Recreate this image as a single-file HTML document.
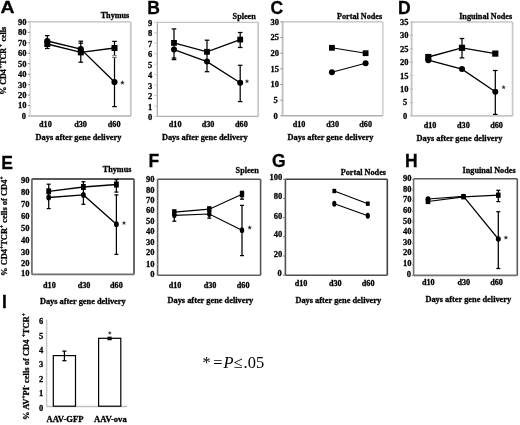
<!DOCTYPE html><html><head><meta charset="utf-8"><style>html,body{margin:0;padding:0;background:#fff;}svg{display:block;will-change:transform;} text{stroke:#000;stroke-width:0.28px;paint-order:stroke;}</style></head><body>
<svg width="520" height="425" viewBox="0 0 520 425">
<rect width="520" height="425" fill="#fff"/>
<line x1="30.00" y1="21.90" x2="130.80" y2="21.90" stroke="#bdbdbd" stroke-width="1.4" />
<line x1="130.80" y1="21.90" x2="130.80" y2="116.00" stroke="#c8c8c8" stroke-width="1.8" />
<line x1="30.00" y1="116.00" x2="130.80" y2="116.00" stroke="#b0b0b0" stroke-width="1.4" />
<line x1="30.00" y1="21.90" x2="30.00" y2="116.00" stroke="#dcdcdc" stroke-width="1.8" />
<line x1="27.80" y1="21.90" x2="30.00" y2="21.90" stroke="#888" stroke-width="1" />
<text x="26.60" y="24.80" font-size="8.5" text-anchor="end" font-weight="bold" font-family="'Liberation Serif', serif" fill="#000" >90</text>
<line x1="27.80" y1="32.36" x2="30.00" y2="32.36" stroke="#888" stroke-width="1" />
<text x="26.60" y="35.26" font-size="8.5" text-anchor="end" font-weight="bold" font-family="'Liberation Serif', serif" fill="#000" >80</text>
<line x1="27.80" y1="42.81" x2="30.00" y2="42.81" stroke="#888" stroke-width="1" />
<text x="26.60" y="45.71" font-size="8.5" text-anchor="end" font-weight="bold" font-family="'Liberation Serif', serif" fill="#000" >70</text>
<line x1="27.80" y1="53.27" x2="30.00" y2="53.27" stroke="#888" stroke-width="1" />
<text x="26.60" y="56.17" font-size="8.5" text-anchor="end" font-weight="bold" font-family="'Liberation Serif', serif" fill="#000" >60</text>
<line x1="27.80" y1="63.72" x2="30.00" y2="63.72" stroke="#888" stroke-width="1" />
<text x="26.60" y="66.62" font-size="8.5" text-anchor="end" font-weight="bold" font-family="'Liberation Serif', serif" fill="#000" >50</text>
<line x1="27.80" y1="74.18" x2="30.00" y2="74.18" stroke="#888" stroke-width="1" />
<text x="26.60" y="77.08" font-size="8.5" text-anchor="end" font-weight="bold" font-family="'Liberation Serif', serif" fill="#000" >40</text>
<line x1="27.80" y1="84.63" x2="30.00" y2="84.63" stroke="#888" stroke-width="1" />
<text x="26.60" y="87.53" font-size="8.5" text-anchor="end" font-weight="bold" font-family="'Liberation Serif', serif" fill="#000" >30</text>
<line x1="27.80" y1="95.09" x2="30.00" y2="95.09" stroke="#888" stroke-width="1" />
<text x="26.60" y="97.99" font-size="8.5" text-anchor="end" font-weight="bold" font-family="'Liberation Serif', serif" fill="#000" >20</text>
<line x1="27.80" y1="105.54" x2="30.00" y2="105.54" stroke="#888" stroke-width="1" />
<text x="26.60" y="108.44" font-size="8.5" text-anchor="end" font-weight="bold" font-family="'Liberation Serif', serif" fill="#000" >10</text>
<line x1="27.80" y1="116.00" x2="30.00" y2="116.00" stroke="#888" stroke-width="1" />
<text x="26.10" y="118.90" font-size="8.5" text-anchor="end" font-weight="bold" font-family="'Liberation Serif', serif" fill="#000" >0</text>
<text transform="translate(0.60,13.40) scale(1.13,1)" font-size="17.2" font-weight="bold" font-family="'Liberation Sans', sans-serif">A</text>
<text x="129.30" y="17.80" font-size="8.2" text-anchor="end" font-weight="bold" font-family="'Liberation Serif', serif" fill="#000" >Thymus</text>
<text x="45.40" y="127.00" font-size="8.2" text-anchor="middle" font-weight="bold" font-family="'Liberation Serif', serif" fill="#000" >d10</text>
<text x="80.60" y="127.00" font-size="8.2" text-anchor="middle" font-weight="bold" font-family="'Liberation Serif', serif" fill="#000" >d30</text>
<text x="114.20" y="127.00" font-size="8.2" text-anchor="middle" font-weight="bold" font-family="'Liberation Serif', serif" fill="#000" >d60</text>
<text x="78.50" y="140.30" font-size="8.35" text-anchor="middle" font-weight="bold" font-family="'Liberation Serif', serif" fill="#000" >Days after gene delivery</text>
<line x1="47.30" y1="35.60" x2="47.30" y2="48.50" stroke="#000" stroke-width="1.25" />
<line x1="45.00" y1="35.60" x2="49.60" y2="35.60" stroke="#000" stroke-width="1.25" />
<line x1="45.00" y1="48.50" x2="49.60" y2="48.50" stroke="#000" stroke-width="1.25" />
<line x1="80.80" y1="41.20" x2="80.80" y2="62.20" stroke="#000" stroke-width="1.25" />
<line x1="78.50" y1="41.20" x2="83.10" y2="41.20" stroke="#000" stroke-width="1.25" />
<line x1="78.50" y1="43.20" x2="83.10" y2="43.20" stroke="#000" stroke-width="1.25" />
<line x1="78.50" y1="62.20" x2="83.10" y2="62.20" stroke="#000" stroke-width="1.25" />
<line x1="114.50" y1="41.40" x2="114.50" y2="56.00" stroke="#000" stroke-width="1.25" />
<line x1="112.20" y1="41.40" x2="116.80" y2="41.40" stroke="#000" stroke-width="1.25" />
<line x1="114.50" y1="57.40" x2="114.50" y2="106.60" stroke="#000" stroke-width="1.25" />
<line x1="112.20" y1="106.60" x2="116.80" y2="106.60" stroke="#000" stroke-width="1.25" />
<line x1="112.20" y1="55.70" x2="116.80" y2="55.70" stroke="#777" stroke-width="1.1" />
<line x1="112.20" y1="57.50" x2="116.80" y2="57.50" stroke="#777" stroke-width="1.1" />
<polyline points="47.30,44.00 80.80,52.40 114.50,48.00" fill="none" stroke="#000" stroke-width="1.3"/>
<polyline points="47.30,41.00 80.80,49.10 114.50,82.00" fill="none" stroke="#000" stroke-width="1.3"/>
<rect x="44.30" y="41.00" width="6" height="6" fill="#000"/>
<rect x="77.80" y="49.40" width="6" height="6" fill="#000"/>
<rect x="111.50" y="45.00" width="6" height="6" fill="#000"/>
<circle cx="47.30" cy="41.00" r="3.1" fill="#000"/>
<circle cx="80.80" cy="49.10" r="3.1" fill="#000"/>
<circle cx="114.50" cy="82.00" r="3.1" fill="#000"/>
<polygon points="122.40,80.30 123.02,81.85 124.68,81.96 123.40,83.02 123.81,84.64 122.40,83.75 120.99,84.64 121.40,83.02 120.12,81.96 121.78,81.85" fill="#333"/>
<text transform="translate(6.3,60.8) rotate(-90)" font-size="8.0" text-anchor="middle" font-weight="bold" font-family="'Liberation Serif', serif"><tspan dx="0" dy="0">% CD4</tspan><tspan font-size="5.5" dx="0.6" dy="-3.2">+</tspan><tspan dx="0.6" dy="3.2">TCR</tspan><tspan font-size="5.5" dx="0.6" dy="-3.2">+</tspan><tspan dx="0.6" dy="3.2"> cells</tspan></text>
<line x1="157.30" y1="22.30" x2="258.20" y2="22.30" stroke="#c4c4c4" stroke-width="1.2" />
<line x1="258.20" y1="22.30" x2="258.20" y2="116.40" stroke="#c8c8c8" stroke-width="1.8" />
<line x1="157.30" y1="116.40" x2="258.20" y2="116.40" stroke="#b0b0b0" stroke-width="1.4" />
<line x1="157.30" y1="22.30" x2="157.30" y2="116.40" stroke="#a0a0a0" stroke-width="1.1" />
<line x1="154.30" y1="22.30" x2="157.30" y2="22.30" stroke="#c8c8c8" stroke-width="1" />
<text x="152.30" y="25.80" font-size="8.5" text-anchor="end" font-weight="bold" font-family="'Liberation Serif', serif" fill="#000" >9</text>
<line x1="154.30" y1="32.77" x2="157.30" y2="32.77" stroke="#c8c8c8" stroke-width="1" />
<text x="152.30" y="36.27" font-size="8.5" text-anchor="end" font-weight="bold" font-family="'Liberation Serif', serif" fill="#000" >8</text>
<line x1="154.30" y1="43.23" x2="157.30" y2="43.23" stroke="#c8c8c8" stroke-width="1" />
<text x="152.30" y="46.73" font-size="8.5" text-anchor="end" font-weight="bold" font-family="'Liberation Serif', serif" fill="#000" >7</text>
<line x1="154.30" y1="53.70" x2="157.30" y2="53.70" stroke="#c8c8c8" stroke-width="1" />
<text x="152.30" y="57.20" font-size="8.5" text-anchor="end" font-weight="bold" font-family="'Liberation Serif', serif" fill="#000" >6</text>
<line x1="154.30" y1="64.17" x2="157.30" y2="64.17" stroke="#c8c8c8" stroke-width="1" />
<text x="152.30" y="67.67" font-size="8.5" text-anchor="end" font-weight="bold" font-family="'Liberation Serif', serif" fill="#000" >5</text>
<line x1="154.30" y1="74.63" x2="157.30" y2="74.63" stroke="#c8c8c8" stroke-width="1" />
<text x="152.30" y="78.13" font-size="8.5" text-anchor="end" font-weight="bold" font-family="'Liberation Serif', serif" fill="#000" >4</text>
<line x1="154.30" y1="85.10" x2="157.30" y2="85.10" stroke="#c8c8c8" stroke-width="1" />
<text x="152.30" y="88.60" font-size="8.5" text-anchor="end" font-weight="bold" font-family="'Liberation Serif', serif" fill="#000" >3</text>
<line x1="154.30" y1="95.57" x2="157.30" y2="95.57" stroke="#c8c8c8" stroke-width="1" />
<text x="152.30" y="99.07" font-size="8.5" text-anchor="end" font-weight="bold" font-family="'Liberation Serif', serif" fill="#000" >2</text>
<line x1="154.30" y1="106.03" x2="157.30" y2="106.03" stroke="#c8c8c8" stroke-width="1" />
<text x="152.30" y="109.53" font-size="8.5" text-anchor="end" font-weight="bold" font-family="'Liberation Serif', serif" fill="#000" >1</text>
<line x1="154.30" y1="116.50" x2="157.30" y2="116.50" stroke="#c8c8c8" stroke-width="1" />
<text x="152.30" y="120.00" font-size="8.5" text-anchor="end" font-weight="bold" font-family="'Liberation Serif', serif" fill="#000" >0</text>
<text x="147.20" y="14.00" font-size="17.5" text-anchor="start" font-weight="bold" font-family="'Liberation Sans', sans-serif" fill="#000" >B</text>
<text x="255.80" y="18.80" font-size="8.2" text-anchor="end" font-weight="bold" font-family="'Liberation Serif', serif" fill="#000" >Spleen</text>
<text x="175.20" y="127.20" font-size="8.2" text-anchor="middle" font-weight="bold" font-family="'Liberation Serif', serif" fill="#000" >d10</text>
<text x="208.00" y="127.20" font-size="8.2" text-anchor="middle" font-weight="bold" font-family="'Liberation Serif', serif" fill="#000" >d30</text>
<text x="241.40" y="127.20" font-size="8.2" text-anchor="middle" font-weight="bold" font-family="'Liberation Serif', serif" fill="#000" >d60</text>
<text x="204.80" y="140.20" font-size="8.35" text-anchor="middle" font-weight="bold" font-family="'Liberation Serif', serif" fill="#000" >Days after gene delivery</text>
<line x1="174.00" y1="28.90" x2="174.00" y2="59.60" stroke="#000" stroke-width="1.25" />
<line x1="171.70" y1="28.90" x2="176.30" y2="28.90" stroke="#000" stroke-width="1.25" />
<line x1="171.70" y1="58.00" x2="176.30" y2="58.00" stroke="#000" stroke-width="1.25" />
<line x1="171.70" y1="59.60" x2="176.30" y2="59.60" stroke="#000" stroke-width="1.25" />
<line x1="207.00" y1="40.20" x2="207.00" y2="71.70" stroke="#000" stroke-width="1.25" />
<line x1="204.70" y1="40.20" x2="209.30" y2="40.20" stroke="#000" stroke-width="1.25" />
<line x1="204.70" y1="71.70" x2="209.30" y2="71.70" stroke="#000" stroke-width="1.25" />
<line x1="240.20" y1="32.50" x2="240.20" y2="47.50" stroke="#000" stroke-width="1.25" />
<line x1="237.90" y1="32.50" x2="242.50" y2="32.50" stroke="#000" stroke-width="1.25" />
<line x1="237.90" y1="47.50" x2="242.50" y2="47.50" stroke="#000" stroke-width="1.25" />
<line x1="240.20" y1="65.30" x2="240.20" y2="101.60" stroke="#000" stroke-width="1.25" />
<line x1="237.90" y1="65.30" x2="242.50" y2="65.30" stroke="#000" stroke-width="1.25" />
<line x1="237.90" y1="101.60" x2="242.50" y2="101.60" stroke="#000" stroke-width="1.25" />
<polyline points="174.00,42.90 207.00,51.80 240.20,39.60" fill="none" stroke="#000" stroke-width="1.3"/>
<polyline points="174.00,49.60 207.00,61.60 240.20,82.70" fill="none" stroke="#000" stroke-width="1.3"/>
<rect x="171.10" y="40.00" width="5.8" height="5.8" fill="#000"/>
<rect x="204.10" y="48.90" width="5.8" height="5.8" fill="#000"/>
<rect x="237.30" y="36.70" width="5.8" height="5.8" fill="#000"/>
<circle cx="174.00" cy="49.60" r="3.0" fill="#000"/>
<circle cx="207.00" cy="61.60" r="3.0" fill="#000"/>
<circle cx="240.20" cy="82.70" r="3.0" fill="#000"/>
<polygon points="247.00,78.90 247.62,80.45 249.28,80.56 248.00,81.62 248.41,83.24 247.00,82.35 245.59,83.24 246.00,81.62 244.72,80.56 246.38,80.45" fill="#333"/>
<line x1="282.60" y1="21.90" x2="382.80" y2="21.90" stroke="#bdbdbd" stroke-width="1.3" />
<line x1="382.80" y1="21.90" x2="382.80" y2="115.80" stroke="#d4d4d4" stroke-width="1.8" />
<line x1="282.60" y1="115.80" x2="382.80" y2="115.80" stroke="#b0b0b0" stroke-width="1.4" />
<line x1="282.60" y1="21.90" x2="282.60" y2="115.80" stroke="#c0c0c0" stroke-width="1.8" />
<line x1="280.40" y1="21.90" x2="282.60" y2="21.90" stroke="#888" stroke-width="1" />
<text x="278.90" y="24.80" font-size="8.5" text-anchor="end" font-weight="bold" font-family="'Liberation Serif', serif" fill="#000" >30</text>
<line x1="280.40" y1="37.55" x2="282.60" y2="37.55" stroke="#888" stroke-width="1" />
<text x="278.90" y="40.45" font-size="8.5" text-anchor="end" font-weight="bold" font-family="'Liberation Serif', serif" fill="#000" >25</text>
<line x1="280.40" y1="53.20" x2="282.60" y2="53.20" stroke="#888" stroke-width="1" />
<text x="278.90" y="56.10" font-size="8.5" text-anchor="end" font-weight="bold" font-family="'Liberation Serif', serif" fill="#000" >20</text>
<line x1="280.40" y1="68.85" x2="282.60" y2="68.85" stroke="#888" stroke-width="1" />
<text x="278.90" y="71.75" font-size="8.5" text-anchor="end" font-weight="bold" font-family="'Liberation Serif', serif" fill="#000" >15</text>
<line x1="280.40" y1="84.50" x2="282.60" y2="84.50" stroke="#888" stroke-width="1" />
<text x="278.90" y="87.40" font-size="8.5" text-anchor="end" font-weight="bold" font-family="'Liberation Serif', serif" fill="#000" >10</text>
<line x1="280.40" y1="100.15" x2="282.60" y2="100.15" stroke="#888" stroke-width="1" />
<text x="277.80" y="103.05" font-size="8.5" text-anchor="end" font-weight="bold" font-family="'Liberation Serif', serif" fill="#000" >5</text>
<line x1="280.40" y1="115.80" x2="282.60" y2="115.80" stroke="#888" stroke-width="1" />
<text x="277.80" y="118.70" font-size="8.5" text-anchor="end" font-weight="bold" font-family="'Liberation Serif', serif" fill="#000" >0</text>
<text x="270.60" y="13.80" font-size="17.5" text-anchor="start" font-weight="bold" font-family="'Liberation Sans', sans-serif" fill="#000" >C</text>
<text x="382.20" y="19.00" font-size="8.2" text-anchor="end" font-weight="bold" font-family="'Liberation Serif', serif" fill="#000" >Portal Nodes</text>
<text x="299.10" y="126.80" font-size="8.2" text-anchor="middle" font-weight="bold" font-family="'Liberation Serif', serif" fill="#000" >d10</text>
<text x="332.70" y="126.80" font-size="8.2" text-anchor="middle" font-weight="bold" font-family="'Liberation Serif', serif" fill="#000" >d30</text>
<text x="365.70" y="126.80" font-size="8.2" text-anchor="middle" font-weight="bold" font-family="'Liberation Serif', serif" fill="#000" >d60</text>
<text x="330.50" y="140.10" font-size="8.35" text-anchor="middle" font-weight="bold" font-family="'Liberation Serif', serif" fill="#000" >Days after gene delivery</text>
<polyline points="331.90,47.80 365.60,53.20" fill="none" stroke="#000" stroke-width="1.1"/>
<polyline points="331.90,72.30 365.60,63.30" fill="none" stroke="#000" stroke-width="1.1"/>
<rect x="329.00" y="44.90" width="5.8" height="5.8" fill="#000"/>
<rect x="362.70" y="50.30" width="5.8" height="5.8" fill="#000"/>
<circle cx="331.90" cy="72.30" r="3.0" fill="#000"/>
<circle cx="365.60" cy="63.30" r="3.0" fill="#000"/>
<line x1="411.60" y1="22.00" x2="512.60" y2="22.00" stroke="#c8c8c8" stroke-width="1.3" />
<line x1="512.60" y1="22.00" x2="512.60" y2="115.90" stroke="#c8c8c8" stroke-width="1.8" />
<line x1="411.60" y1="115.90" x2="512.60" y2="115.90" stroke="#b0b0b0" stroke-width="1.4" />
<line x1="411.60" y1="22.00" x2="411.60" y2="115.90" stroke="#c4c4c4" stroke-width="1.8" />
<line x1="409.80" y1="22.00" x2="413.10" y2="22.00" stroke="#bbb" stroke-width="1" />
<text x="408.50" y="24.90" font-size="8.5" text-anchor="end" font-weight="bold" font-family="'Liberation Serif', serif" fill="#000" >35</text>
<line x1="409.80" y1="35.41" x2="413.10" y2="35.41" stroke="#bbb" stroke-width="1" />
<text x="408.50" y="38.31" font-size="8.5" text-anchor="end" font-weight="bold" font-family="'Liberation Serif', serif" fill="#000" >30</text>
<line x1="409.80" y1="48.83" x2="413.10" y2="48.83" stroke="#bbb" stroke-width="1" />
<text x="408.50" y="51.73" font-size="8.5" text-anchor="end" font-weight="bold" font-family="'Liberation Serif', serif" fill="#000" >25</text>
<line x1="409.80" y1="62.24" x2="413.10" y2="62.24" stroke="#bbb" stroke-width="1" />
<text x="408.50" y="65.14" font-size="8.5" text-anchor="end" font-weight="bold" font-family="'Liberation Serif', serif" fill="#000" >20</text>
<line x1="409.80" y1="75.66" x2="413.10" y2="75.66" stroke="#bbb" stroke-width="1" />
<text x="408.50" y="78.56" font-size="8.5" text-anchor="end" font-weight="bold" font-family="'Liberation Serif', serif" fill="#000" >15</text>
<line x1="409.80" y1="89.07" x2="413.10" y2="89.07" stroke="#bbb" stroke-width="1" />
<text x="408.50" y="91.97" font-size="8.5" text-anchor="end" font-weight="bold" font-family="'Liberation Serif', serif" fill="#000" >10</text>
<line x1="409.80" y1="102.49" x2="413.10" y2="102.49" stroke="#bbb" stroke-width="1" />
<text x="407.30" y="105.39" font-size="8.5" text-anchor="end" font-weight="bold" font-family="'Liberation Serif', serif" fill="#000" >5</text>
<line x1="409.80" y1="115.90" x2="413.10" y2="115.90" stroke="#bbb" stroke-width="1" />
<text x="407.30" y="118.80" font-size="8.5" text-anchor="end" font-weight="bold" font-family="'Liberation Serif', serif" fill="#000" >0</text>
<text x="398.00" y="14.10" font-size="17.5" text-anchor="start" font-weight="bold" font-family="'Liberation Sans', sans-serif" fill="#000" >D</text>
<text x="512.20" y="19.20" font-size="8.2" text-anchor="end" font-weight="bold" font-family="'Liberation Serif', serif" fill="#000" >Inguinal Nodes</text>
<text x="430.10" y="127.50" font-size="8.2" text-anchor="middle" font-weight="bold" font-family="'Liberation Serif', serif" fill="#000" >d10</text>
<text x="463.40" y="127.50" font-size="8.2" text-anchor="middle" font-weight="bold" font-family="'Liberation Serif', serif" fill="#000" >d30</text>
<text x="496.60" y="127.50" font-size="8.2" text-anchor="middle" font-weight="bold" font-family="'Liberation Serif', serif" fill="#000" >d60</text>
<text x="459.50" y="141.10" font-size="8.35" text-anchor="middle" font-weight="bold" font-family="'Liberation Serif', serif" fill="#000" >Days after gene delivery</text>
<line x1="462.00" y1="38.50" x2="462.00" y2="57.90" stroke="#000" stroke-width="1.25" />
<line x1="459.70" y1="38.50" x2="464.30" y2="38.50" stroke="#000" stroke-width="1.25" />
<line x1="459.70" y1="57.90" x2="464.30" y2="57.90" stroke="#000" stroke-width="1.25" />
<line x1="495.30" y1="70.50" x2="495.30" y2="114.40" stroke="#000" stroke-width="1.25" />
<line x1="493.00" y1="70.50" x2="497.60" y2="70.50" stroke="#000" stroke-width="1.25" />
<line x1="493.00" y1="114.40" x2="497.60" y2="114.40" stroke="#000" stroke-width="1.25" />
<polyline points="428.30,57.00 462.00,47.80 495.30,53.60" fill="none" stroke="#000" stroke-width="1.3"/>
<polyline points="428.30,60.20 462.00,69.10 495.30,91.80" fill="none" stroke="#000" stroke-width="1.3"/>
<rect x="425.20" y="53.90" width="6.2" height="6.2" fill="#000"/>
<rect x="458.90" y="44.70" width="6.2" height="6.2" fill="#000"/>
<rect x="492.20" y="50.50" width="6.2" height="6.2" fill="#000"/>
<circle cx="428.30" cy="60.20" r="3.0" fill="#000"/>
<circle cx="462.00" cy="69.10" r="3.0" fill="#000"/>
<circle cx="495.30" cy="91.80" r="3.0" fill="#000"/>
<polygon points="503.60,84.90 504.22,86.45 505.88,86.56 504.60,87.62 505.01,89.24 503.60,88.35 502.19,89.24 502.60,87.62 501.32,86.56 502.98,86.45" fill="#333"/>
<line x1="31.90" y1="179.00" x2="134.00" y2="179.00" stroke="#5a5a5a" stroke-width="1.8" />
<line x1="134.00" y1="179.00" x2="134.00" y2="274.40" stroke="#5a5a5a" stroke-width="1.8" />
<line x1="31.90" y1="274.40" x2="134.00" y2="274.40" stroke="#707070" stroke-width="1.8" />
<line x1="31.90" y1="179.00" x2="31.90" y2="274.40" stroke="#707070" stroke-width="1.8" />
<line x1="30.70" y1="179.00" x2="31.90" y2="179.00" stroke="#999" stroke-width="1" />
<text x="29.50" y="182.70" font-size="8.5" text-anchor="end" font-weight="bold" font-family="'Liberation Serif', serif" fill="#000" >90</text>
<line x1="30.70" y1="190.78" x2="31.90" y2="190.78" stroke="#999" stroke-width="1" />
<text x="29.50" y="194.70" font-size="8.5" text-anchor="end" font-weight="bold" font-family="'Liberation Serif', serif" fill="#000" >80</text>
<line x1="30.70" y1="202.55" x2="31.90" y2="202.55" stroke="#999" stroke-width="1" />
<text x="29.50" y="207.10" font-size="8.5" text-anchor="end" font-weight="bold" font-family="'Liberation Serif', serif" fill="#000" >70</text>
<line x1="30.70" y1="214.32" x2="31.90" y2="214.32" stroke="#999" stroke-width="1" />
<text x="29.50" y="218.90" font-size="8.5" text-anchor="end" font-weight="bold" font-family="'Liberation Serif', serif" fill="#000" >60</text>
<line x1="30.70" y1="226.10" x2="31.90" y2="226.10" stroke="#999" stroke-width="1" />
<text x="29.50" y="231.00" font-size="8.5" text-anchor="end" font-weight="bold" font-family="'Liberation Serif', serif" fill="#000" >50</text>
<line x1="30.70" y1="237.88" x2="31.90" y2="237.88" stroke="#999" stroke-width="1" />
<text x="29.50" y="243.00" font-size="8.5" text-anchor="end" font-weight="bold" font-family="'Liberation Serif', serif" fill="#000" >40</text>
<line x1="30.70" y1="249.65" x2="31.90" y2="249.65" stroke="#999" stroke-width="1" />
<text x="29.50" y="255.00" font-size="8.5" text-anchor="end" font-weight="bold" font-family="'Liberation Serif', serif" fill="#000" >30</text>
<line x1="30.70" y1="261.42" x2="31.90" y2="261.42" stroke="#999" stroke-width="1" />
<text x="29.50" y="266.40" font-size="8.5" text-anchor="end" font-weight="bold" font-family="'Liberation Serif', serif" fill="#000" >20</text>
<line x1="30.70" y1="273.20" x2="31.90" y2="273.20" stroke="#999" stroke-width="1" />
<text x="29.50" y="276.10" font-size="8.5" text-anchor="end" font-weight="bold" font-family="'Liberation Serif', serif" fill="#000" >10</text>
<text x="1.20" y="168.80" font-size="17.5" text-anchor="start" font-weight="bold" font-family="'Liberation Sans', sans-serif" fill="#000" >E</text>
<text x="131.40" y="172.00" font-size="8.2" text-anchor="end" font-weight="bold" font-family="'Liberation Serif', serif" fill="#000" >Thymus</text>
<text x="49.40" y="288.40" font-size="8.2" text-anchor="middle" font-weight="bold" font-family="'Liberation Serif', serif" fill="#000" >d10</text>
<text x="84.10" y="288.40" font-size="8.2" text-anchor="middle" font-weight="bold" font-family="'Liberation Serif', serif" fill="#000" >d30</text>
<text x="116.40" y="288.40" font-size="8.2" text-anchor="middle" font-weight="bold" font-family="'Liberation Serif', serif" fill="#000" >d60</text>
<text x="82.80" y="303.60" font-size="8.35" text-anchor="middle" font-weight="bold" font-family="'Liberation Serif', serif" fill="#000" >Days after gene delivery</text>
<line x1="48.70" y1="184.20" x2="48.70" y2="208.60" stroke="#000" stroke-width="1.25" />
<line x1="46.70" y1="184.20" x2="50.70" y2="184.20" stroke="#000" stroke-width="1.25" />
<line x1="46.70" y1="208.60" x2="50.70" y2="208.60" stroke="#000" stroke-width="1.25" />
<line x1="83.40" y1="181.70" x2="83.40" y2="204.30" stroke="#000" stroke-width="1.25" />
<line x1="81.40" y1="181.70" x2="85.40" y2="181.70" stroke="#000" stroke-width="1.25" />
<line x1="81.40" y1="204.30" x2="85.40" y2="204.30" stroke="#000" stroke-width="1.25" />
<line x1="116.40" y1="179.60" x2="116.40" y2="192.10" stroke="#000" stroke-width="1.25" />
<line x1="114.40" y1="179.60" x2="118.40" y2="179.60" stroke="#000" stroke-width="1.25" />
<line x1="114.40" y1="192.10" x2="118.40" y2="192.10" stroke="#000" stroke-width="1.25" />
<line x1="116.40" y1="194.90" x2="116.40" y2="254.40" stroke="#000" stroke-width="1.25" />
<line x1="114.40" y1="194.90" x2="118.40" y2="194.90" stroke="#000" stroke-width="1.25" />
<line x1="114.40" y1="254.40" x2="118.40" y2="254.40" stroke="#000" stroke-width="1.25" />
<polyline points="48.70,191.30 83.40,187.00 116.40,184.50" fill="none" stroke="#000" stroke-width="1.3"/>
<polyline points="48.70,197.50 83.40,194.90 116.40,224.20" fill="none" stroke="#000" stroke-width="1.3"/>
<rect x="46.30" y="188.30" width="4.8" height="6.0" fill="#000"/>
<rect x="81.00" y="184.00" width="4.8" height="6.0" fill="#000"/>
<rect x="114.00" y="181.50" width="4.8" height="6.0" fill="#000"/>
<ellipse cx="48.70" cy="197.50" rx="2.4" ry="2.9" fill="#000"/>
<ellipse cx="83.40" cy="194.90" rx="2.4" ry="2.9" fill="#000"/>
<ellipse cx="116.40" cy="224.20" rx="2.4" ry="2.9" fill="#000"/>
<polygon points="124.00,220.60 124.62,222.15 126.28,222.26 125.00,223.32 125.41,224.94 124.00,224.05 122.59,224.94 123.00,223.32 121.72,222.26 123.38,222.15" fill="#333"/>
<text transform="translate(7.2,226.2) rotate(-90)" font-size="8.45" text-anchor="middle" font-weight="bold" font-family="'Liberation Serif', serif"><tspan dx="0" dy="0">% CD4</tspan><tspan font-size="5.5" dx="0" dy="-3.2">+</tspan><tspan dx="0" dy="3.2">TCR</tspan><tspan font-size="5.5" dx="0" dy="-3.2">+</tspan><tspan dx="0" dy="3.2"> cells of CD4</tspan><tspan font-size="5.5" dx="0" dy="-3.2">+</tspan></text>
<line x1="157.60" y1="179.20" x2="260.60" y2="179.20" stroke="#555" stroke-width="1.6" />
<line x1="260.60" y1="179.20" x2="260.60" y2="275.30" stroke="#555" stroke-width="1.6" />
<line x1="157.60" y1="275.30" x2="260.60" y2="275.30" stroke="#606060" stroke-width="1.6" />
<line x1="157.60" y1="179.20" x2="157.60" y2="275.30" stroke="#606060" stroke-width="1.6" />
<line x1="156.60" y1="179.20" x2="157.60" y2="179.20" stroke="#aaa" stroke-width="1" />
<text x="154.40" y="182.00" font-size="8.5" text-anchor="end" font-weight="bold" font-family="'Liberation Serif', serif" fill="#000" >90</text>
<line x1="156.60" y1="189.88" x2="157.60" y2="189.88" stroke="#aaa" stroke-width="1" />
<text x="154.40" y="193.10" font-size="8.5" text-anchor="end" font-weight="bold" font-family="'Liberation Serif', serif" fill="#000" >80</text>
<line x1="156.60" y1="200.56" x2="157.60" y2="200.56" stroke="#aaa" stroke-width="1" />
<text x="154.40" y="202.50" font-size="8.5" text-anchor="end" font-weight="bold" font-family="'Liberation Serif', serif" fill="#000" >70</text>
<line x1="156.60" y1="211.23" x2="157.60" y2="211.23" stroke="#aaa" stroke-width="1" />
<text x="154.40" y="212.60" font-size="8.5" text-anchor="end" font-weight="bold" font-family="'Liberation Serif', serif" fill="#000" >60</text>
<line x1="156.60" y1="221.91" x2="157.60" y2="221.91" stroke="#aaa" stroke-width="1" />
<text x="154.40" y="223.60" font-size="8.5" text-anchor="end" font-weight="bold" font-family="'Liberation Serif', serif" fill="#000" >50</text>
<line x1="156.60" y1="232.59" x2="157.60" y2="232.59" stroke="#aaa" stroke-width="1" />
<text x="154.40" y="234.30" font-size="8.5" text-anchor="end" font-weight="bold" font-family="'Liberation Serif', serif" fill="#000" >40</text>
<line x1="156.60" y1="243.27" x2="157.60" y2="243.27" stroke="#aaa" stroke-width="1" />
<text x="154.40" y="245.20" font-size="8.5" text-anchor="end" font-weight="bold" font-family="'Liberation Serif', serif" fill="#000" >30</text>
<line x1="156.60" y1="253.94" x2="157.60" y2="253.94" stroke="#aaa" stroke-width="1" />
<text x="154.40" y="255.20" font-size="8.5" text-anchor="end" font-weight="bold" font-family="'Liberation Serif', serif" fill="#000" >20</text>
<line x1="156.60" y1="264.62" x2="157.60" y2="264.62" stroke="#aaa" stroke-width="1" />
<text x="154.40" y="266.50" font-size="8.5" text-anchor="end" font-weight="bold" font-family="'Liberation Serif', serif" fill="#000" >10</text>
<line x1="156.60" y1="275.30" x2="157.60" y2="275.30" stroke="#aaa" stroke-width="1" />
<text x="154.40" y="277.10" font-size="8.5" text-anchor="end" font-weight="bold" font-family="'Liberation Serif', serif" fill="#000" >0</text>
<text x="148.60" y="166.80" font-size="17.5" text-anchor="start" font-weight="bold" font-family="'Liberation Sans', sans-serif" fill="#000" >F</text>
<text x="258.80" y="173.20" font-size="8.2" text-anchor="end" font-weight="bold" font-family="'Liberation Serif', serif" fill="#000" >Spleen</text>
<text x="175.10" y="288.20" font-size="8.2" text-anchor="middle" font-weight="bold" font-family="'Liberation Serif', serif" fill="#000" >d10</text>
<text x="210.10" y="288.20" font-size="8.2" text-anchor="middle" font-weight="bold" font-family="'Liberation Serif', serif" fill="#000" >d30</text>
<text x="243.20" y="288.20" font-size="8.2" text-anchor="middle" font-weight="bold" font-family="'Liberation Serif', serif" fill="#000" >d60</text>
<text x="210.40" y="303.00" font-size="8.35" text-anchor="middle" font-weight="bold" font-family="'Liberation Serif', serif" fill="#000" >Days after gene delivery</text>
<line x1="174.30" y1="210.20" x2="174.30" y2="221.20" stroke="#000" stroke-width="1.25" />
<line x1="172.30" y1="221.20" x2="176.30" y2="221.20" stroke="#000" stroke-width="1.25" />
<line x1="209.30" y1="207.00" x2="209.30" y2="218.20" stroke="#000" stroke-width="1.25" />
<line x1="207.30" y1="218.20" x2="211.30" y2="218.20" stroke="#000" stroke-width="1.25" />
<line x1="242.00" y1="191.30" x2="242.00" y2="199.20" stroke="#000" stroke-width="1.25" />
<line x1="240.00" y1="191.30" x2="244.00" y2="191.30" stroke="#000" stroke-width="1.25" />
<line x1="240.00" y1="199.20" x2="244.00" y2="199.20" stroke="#000" stroke-width="1.25" />
<line x1="242.00" y1="205.40" x2="242.00" y2="255.60" stroke="#000" stroke-width="1.25" />
<line x1="240.00" y1="205.40" x2="244.00" y2="205.40" stroke="#000" stroke-width="1.25" />
<line x1="240.00" y1="255.60" x2="244.00" y2="255.60" stroke="#000" stroke-width="1.25" />
<polyline points="174.30,212.20 209.30,209.20 242.00,194.30" fill="none" stroke="#000" stroke-width="1.2"/>
<polyline points="174.30,215.30 209.30,214.00 242.00,230.20" fill="none" stroke="#000" stroke-width="1.2"/>
<rect x="172.10" y="209.20" width="4.4" height="6" fill="#000"/>
<rect x="207.10" y="206.20" width="4.4" height="6" fill="#000"/>
<rect x="239.80" y="191.30" width="4.4" height="6" fill="#000"/>
<ellipse cx="174.30" cy="215.30" rx="2.2" ry="2.9" fill="#000"/>
<ellipse cx="209.30" cy="214.00" rx="2.2" ry="2.9" fill="#000"/>
<ellipse cx="242.00" cy="230.20" rx="2.2" ry="2.9" fill="#000"/>
<polygon points="249.70,225.20 250.32,226.75 251.98,226.86 250.70,227.92 251.11,229.54 249.70,228.65 248.29,229.54 248.70,227.92 247.42,226.86 249.08,226.75" fill="#333"/>
<line x1="285.40" y1="179.20" x2="387.30" y2="179.20" stroke="#404040" stroke-width="1.6" />
<line x1="387.30" y1="179.20" x2="387.30" y2="275.20" stroke="#404040" stroke-width="1.6" />
<line x1="285.40" y1="275.20" x2="387.30" y2="275.20" stroke="#505050" stroke-width="1.6" />
<line x1="285.40" y1="179.20" x2="285.40" y2="275.20" stroke="#505050" stroke-width="1.6" />
<text x="272.00" y="167.00" font-size="17.5" text-anchor="start" font-weight="bold" font-family="'Liberation Sans', sans-serif" fill="#000" >G</text>
<text x="386.00" y="174.50" font-size="8.2" text-anchor="end" font-weight="bold" font-family="'Liberation Serif', serif" fill="#000" >Portal Nodes</text>
<text x="301.10" y="286.20" font-size="8.2" text-anchor="middle" font-weight="bold" font-family="'Liberation Serif', serif" fill="#000" >d10</text>
<text x="335.30" y="286.20" font-size="8.2" text-anchor="middle" font-weight="bold" font-family="'Liberation Serif', serif" fill="#000" >d30</text>
<text x="368.20" y="286.20" font-size="8.2" text-anchor="middle" font-weight="bold" font-family="'Liberation Serif', serif" fill="#000" >d60</text>
<text x="338.30" y="303.00" font-size="8.35" text-anchor="middle" font-weight="bold" font-family="'Liberation Serif', serif" fill="#000" >Days after gene delivery</text>
<line x1="283.00" y1="179.20" x2="285.40" y2="179.20" stroke="#777" stroke-width="1" />
<text x="282.30" y="179.90" font-size="8.5" text-anchor="end" font-weight="bold" font-family="'Liberation Serif', serif" fill="#000" >100</text>
<line x1="283.00" y1="198.40" x2="285.40" y2="198.40" stroke="#777" stroke-width="1" />
<text x="282.30" y="198.90" font-size="8.5" text-anchor="end" font-weight="bold" font-family="'Liberation Serif', serif" fill="#000" >80</text>
<line x1="283.00" y1="217.60" x2="285.40" y2="217.60" stroke="#777" stroke-width="1" />
<text x="282.30" y="219.00" font-size="8.5" text-anchor="end" font-weight="bold" font-family="'Liberation Serif', serif" fill="#000" >60</text>
<line x1="283.00" y1="236.80" x2="285.40" y2="236.80" stroke="#777" stroke-width="1" />
<text x="282.30" y="236.80" font-size="8.5" text-anchor="end" font-weight="bold" font-family="'Liberation Serif', serif" fill="#000" >40</text>
<line x1="283.00" y1="256.00" x2="285.40" y2="256.00" stroke="#777" stroke-width="1" />
<text x="282.30" y="257.30" font-size="8.5" text-anchor="end" font-weight="bold" font-family="'Liberation Serif', serif" fill="#000" >20</text>
<line x1="283.00" y1="275.20" x2="285.40" y2="275.20" stroke="#777" stroke-width="1" />
<text x="281.70" y="275.80" font-size="8.5" text-anchor="end" font-weight="bold" font-family="'Liberation Serif', serif" fill="#000" >0</text>
<polyline points="334.30,191.00 367.80,203.70" fill="none" stroke="#000" stroke-width="1.2"/>
<polyline points="334.30,203.70 367.80,215.70" fill="none" stroke="#000" stroke-width="1.2"/>
<rect x="332.40" y="188.80" width="3.8" height="4.4" fill="#000"/>
<rect x="365.90" y="201.50" width="3.8" height="4.4" fill="#000"/>
<ellipse cx="334.30" cy="203.70" rx="2.1" ry="3.0" fill="#000"/>
<ellipse cx="367.80" cy="215.70" rx="2.1" ry="3.0" fill="#000"/>
<line x1="413.60" y1="178.70" x2="517.30" y2="178.70" stroke="#5a5a5a" stroke-width="1.6" />
<line x1="517.30" y1="178.70" x2="517.30" y2="275.40" stroke="#5a5a5a" stroke-width="1.6" />
<line x1="413.60" y1="275.40" x2="517.30" y2="275.40" stroke="#707070" stroke-width="1.6" />
<line x1="413.60" y1="178.70" x2="413.60" y2="275.40" stroke="#707070" stroke-width="1.6" />
<text x="405.00" y="166.80" font-size="17.5" text-anchor="start" font-weight="bold" font-family="'Liberation Sans', sans-serif" fill="#000" >H</text>
<text x="515.60" y="173.00" font-size="8.2" text-anchor="end" font-weight="bold" font-family="'Liberation Serif', serif" fill="#000" >Inguinal Nodes</text>
<text x="428.30" y="285.20" font-size="8.2" text-anchor="middle" font-weight="bold" font-family="'Liberation Serif', serif" fill="#000" >d10</text>
<text x="463.80" y="285.20" font-size="8.2" text-anchor="middle" font-weight="bold" font-family="'Liberation Serif', serif" fill="#000" >d30</text>
<text x="496.60" y="285.20" font-size="8.2" text-anchor="middle" font-weight="bold" font-family="'Liberation Serif', serif" fill="#000" >d60</text>
<text x="468.30" y="302.10" font-size="8.35" text-anchor="middle" font-weight="bold" font-family="'Liberation Serif', serif" fill="#000" >Days after gene delivery</text>
<line x1="412.20" y1="179.50" x2="413.60" y2="179.50" stroke="#777" stroke-width="1" />
<text x="411.60" y="180.90" font-size="8.5" text-anchor="end" font-weight="bold" font-family="'Liberation Serif', serif" fill="#000" >90</text>
<line x1="412.20" y1="190.16" x2="413.60" y2="190.16" stroke="#777" stroke-width="1" />
<text x="411.60" y="191.56" font-size="8.5" text-anchor="end" font-weight="bold" font-family="'Liberation Serif', serif" fill="#000" >80</text>
<line x1="412.20" y1="200.81" x2="413.60" y2="200.81" stroke="#777" stroke-width="1" />
<text x="411.60" y="202.21" font-size="8.5" text-anchor="end" font-weight="bold" font-family="'Liberation Serif', serif" fill="#000" >70</text>
<line x1="412.20" y1="211.47" x2="413.60" y2="211.47" stroke="#777" stroke-width="1" />
<text x="411.60" y="212.87" font-size="8.5" text-anchor="end" font-weight="bold" font-family="'Liberation Serif', serif" fill="#000" >60</text>
<line x1="412.20" y1="222.12" x2="413.60" y2="222.12" stroke="#777" stroke-width="1" />
<text x="411.60" y="223.52" font-size="8.5" text-anchor="end" font-weight="bold" font-family="'Liberation Serif', serif" fill="#000" >50</text>
<line x1="412.20" y1="232.78" x2="413.60" y2="232.78" stroke="#777" stroke-width="1" />
<text x="411.60" y="234.18" font-size="8.5" text-anchor="end" font-weight="bold" font-family="'Liberation Serif', serif" fill="#000" >40</text>
<line x1="412.20" y1="243.43" x2="413.60" y2="243.43" stroke="#777" stroke-width="1" />
<text x="411.60" y="244.83" font-size="8.5" text-anchor="end" font-weight="bold" font-family="'Liberation Serif', serif" fill="#000" >30</text>
<line x1="412.20" y1="254.09" x2="413.60" y2="254.09" stroke="#777" stroke-width="1" />
<text x="411.60" y="255.49" font-size="8.5" text-anchor="end" font-weight="bold" font-family="'Liberation Serif', serif" fill="#000" >20</text>
<line x1="412.20" y1="264.74" x2="413.60" y2="264.74" stroke="#777" stroke-width="1" />
<text x="411.60" y="266.14" font-size="8.5" text-anchor="end" font-weight="bold" font-family="'Liberation Serif', serif" fill="#000" >10</text>
<line x1="412.20" y1="275.40" x2="413.60" y2="275.40" stroke="#777" stroke-width="1" />
<text x="411.00" y="276.80" font-size="8.5" text-anchor="end" font-weight="bold" font-family="'Liberation Serif', serif" fill="#000" >0</text>
<line x1="498.30" y1="190.30" x2="498.30" y2="201.60" stroke="#000" stroke-width="1.25" />
<line x1="496.30" y1="190.30" x2="500.30" y2="190.30" stroke="#000" stroke-width="1.25" />
<line x1="496.30" y1="201.60" x2="500.30" y2="201.60" stroke="#000" stroke-width="1.25" />
<line x1="498.30" y1="211.70" x2="498.30" y2="268.50" stroke="#000" stroke-width="1.25" />
<line x1="496.30" y1="211.70" x2="500.30" y2="211.70" stroke="#000" stroke-width="1.25" />
<line x1="496.30" y1="268.50" x2="500.30" y2="268.50" stroke="#000" stroke-width="1.25" />
<polyline points="428.00,201.50 463.50,196.80 498.30,195.20" fill="none" stroke="#000" stroke-width="1.2"/>
<polyline points="428.00,199.00 463.50,196.40 498.30,239.00" fill="none" stroke="#000" stroke-width="1.2"/>
<rect x="425.70" y="198.90" width="4.6" height="5.2" fill="#000"/>
<rect x="461.20" y="194.20" width="4.6" height="5.2" fill="#000"/>
<rect x="496.00" y="192.60" width="4.6" height="5.2" fill="#000"/>
<ellipse cx="428.00" cy="199.00" rx="2.5" ry="2.7" fill="#000"/>
<ellipse cx="463.50" cy="196.40" rx="2.5" ry="2.7" fill="#000"/>
<ellipse cx="498.30" cy="239.00" rx="2.5" ry="2.7" fill="#000"/>
<polygon points="505.90,235.20 506.52,236.75 508.18,236.86 506.90,237.92 507.31,239.54 505.90,238.65 504.49,239.54 504.90,237.92 503.62,236.86 505.28,236.75" fill="#333"/>
<text x="2.00" y="307.60" font-size="17.5" text-anchor="start" font-weight="bold" font-family="'Liberation Sans', sans-serif" fill="#000" >I</text>
<line x1="46.60" y1="319.50" x2="46.60" y2="406.80" stroke="#c8c8c8" stroke-width="1.5" />
<line x1="46.60" y1="406.60" x2="127.00" y2="406.60" stroke="#c0c0c0" stroke-width="1.5" />
<text x="43.20" y="324.10" font-size="8.5" text-anchor="end" font-weight="bold" font-family="'Liberation Serif', serif" fill="#000" >6</text>
<text x="43.20" y="338.50" font-size="8.5" text-anchor="end" font-weight="bold" font-family="'Liberation Serif', serif" fill="#000" >5</text>
<text x="43.20" y="352.90" font-size="8.5" text-anchor="end" font-weight="bold" font-family="'Liberation Serif', serif" fill="#000" >4</text>
<text x="43.20" y="367.30" font-size="8.5" text-anchor="end" font-weight="bold" font-family="'Liberation Serif', serif" fill="#000" >3</text>
<text x="43.20" y="381.70" font-size="8.5" text-anchor="end" font-weight="bold" font-family="'Liberation Serif', serif" fill="#000" >2</text>
<text x="43.20" y="396.10" font-size="8.5" text-anchor="end" font-weight="bold" font-family="'Liberation Serif', serif" fill="#000" >1</text>
<text x="43.20" y="410.50" font-size="8.5" text-anchor="end" font-weight="bold" font-family="'Liberation Serif', serif" fill="#000" >0</text>
<rect x="53.3" y="355.6" width="22.2" height="50.6" fill="#fff" stroke="#000" stroke-width="1.2"/>
<rect x="98.6" y="338.3" width="22.2" height="67.9" fill="#fff" stroke="#000" stroke-width="1.2"/>
<line x1="64.40" y1="351.10" x2="64.40" y2="360.70" stroke="#000" stroke-width="1.25" />
<line x1="62.30" y1="351.10" x2="66.50" y2="351.10" stroke="#000" stroke-width="1.25" />
<line x1="62.30" y1="360.70" x2="66.50" y2="360.70" stroke="#000" stroke-width="1.25" />
<line x1="109.60" y1="337.30" x2="109.60" y2="339.60" stroke="#000" stroke-width="1.25" />
<line x1="107.50" y1="337.30" x2="111.70" y2="337.30" stroke="#000" stroke-width="1.25" />
<line x1="107.50" y1="339.60" x2="111.70" y2="339.60" stroke="#000" stroke-width="1.25" />
<polygon points="109.80,331.00 110.33,332.27 111.70,332.38 110.66,333.28 110.98,334.62 109.80,333.90 108.62,334.62 108.94,333.28 107.90,332.38 109.27,332.27" fill="#333"/>
<text x="65.00" y="421.60" font-size="8.6" text-anchor="middle" font-weight="bold" font-family="'Liberation Serif', serif" fill="#000" >AAV-GFP</text>
<text x="110.40" y="421.60" font-size="8.6" text-anchor="middle" font-weight="bold" font-family="'Liberation Serif', serif" fill="#000" >AAV-ova</text>
<text transform="translate(29.0,366.5) rotate(-90)" font-size="8.5" text-anchor="middle" font-weight="bold" font-family="'Liberation Serif', serif"><tspan dx="0" dy="0">% AV</tspan><tspan font-size="5.5" dx="0" dy="-3.2">+</tspan><tspan dx="0" dy="3.2">PI</tspan><tspan font-size="5.5" dx="0" dy="-3.2">-</tspan><tspan dx="0" dy="3.2"> cells of CD4 </tspan><tspan font-size="5.5" dx="0" dy="-3.2">+</tspan><tspan dx="0" dy="3.2">TCR</tspan><tspan font-size="5.5" dx="0" dy="-3.2">+</tspan></text>
<text x="202.4" y="368.0" font-size="16.4" style="stroke:none" font-family="'Liberation Serif', serif" fill="#000">*</text>
<text x="213.3" y="368.0" font-size="16.4" style="stroke:none" font-family="'Liberation Serif', serif" fill="#000">=</text>
<text x="223.6" y="368.0" font-size="16.4" style="stroke:none" font-family="'Liberation Serif', serif" font-style="italic" fill="#000">P</text>
<text x="233.4" y="368.0" font-size="16.4" style="stroke:none" font-family="'Liberation Serif', serif" fill="#000">≤</text>
<text x="243.6" y="368.0" font-size="16.4" style="stroke:none" font-family="'Liberation Serif', serif" fill="#000">.05</text>
</svg></body></html>
